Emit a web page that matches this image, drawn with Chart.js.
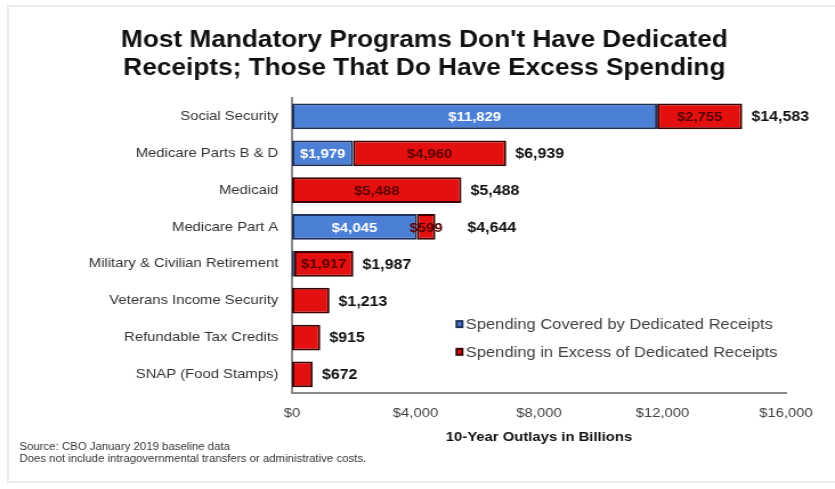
<!DOCTYPE html>
<html>
<head>
<meta charset="utf-8">
<script src="https://cdn.jsdelivr.net/npm/chart.js@4.4.1/dist/chart.umd.min.js"></script>
<style>
  html, body { margin: 0; padding: 0; background: #fff; overflow: hidden; }
  /* the chart is laid out narrow and widened, giving the broad lettering */
  #wrap { width: 732px; height: 489px; transform: scaleX(1.1407); transform-origin: 0 0; }
</style>
</head>
<body>
<div id="wrap"><canvas id="chart"></canvas></div>
<script>
// 10-year outlays, billions of dollars
const programs = [
    'Social Security',
    'Medicare Parts B & D',
    'Medicaid',
    'Medicare Part A',
    'Military & Civilian Retirement',
    'Veterans Income Security',
    'Refundable Tax Credits',
    'SNAP (Food Stamps)'
];
const coveredByReceipts = [11829, 1979, 0, 4045, 70, 0, 0, 0];
const excessOfReceipts = [2755, 4960, 5488, 599, 1917, 1213, 915, 672];
const totals = [14583, 6939, 5488, 4644, 1987, 1213, 915, 672];
const xTicks = [0, 4000, 8000, 12000, 16000];

const titleLines = ["Most Mandatory Programs Don't Have Dedicated", 'Receipts; Those That Do Have Excess Spending'];
const notes = ['Source: CBO January 2019 baseline data', 'Does not include intragovernmental transfers or administrative costs.'];

const BLUE = '#4b80d6';
const RED = '#e3100f';
const FONT = "'Liberation Sans', Arial, sans-serif";

const money = v => '$' + v.toLocaleString('en-US');

// title, footnote, segment values, totals, legend and frame
const annotate = {
    id: 'annotate',
    beforeDraw(chart) {
        const ctx = chart.ctx;
        ctx.save();
        ctx.strokeStyle = '#ebebeb';
        ctx.lineWidth = 2;
        ctx.strokeRect(7, 6, 760, 476);

        ctx.fillStyle = '#111';
        ctx.font = 'bold 23px ' + FONT;
        ctx.textAlign = 'center';
        ctx.textBaseline = 'middle';
        ctx.fillText(titleLines[0], 372, 41);
        ctx.fillText(titleLines[1], 372, 69);

        ctx.fillStyle = '#333';
        ctx.font = '10px ' + FONT;
        ctx.textAlign = 'left';
        ctx.fillText(notes[0], 17, 447);
        ctx.fillText(notes[1], 17, 459);
        ctx.restore();
    },
    afterDatasetsDraw(chart) {
        const ctx = chart.ctx;
        const area = chart.chartArea;
        ctx.save();
        ctx.textBaseline = 'middle';
        ctx.textAlign = 'center';
        ctx.font = 'bold 13px ' + FONT;
        chart.data.datasets.forEach((ds, di) => {
            const meta = chart.getDatasetMeta(di);
            meta.data.forEach((bar, i) => {
                const v = ds.data[i];
                // small single-segment bars only carry the total
                if (v < 300 || totals[i] < 1500) return;
                const cx = (bar.x + bar.base) / 2;
                ctx.fillStyle = di === 0 ? '#ffffff' : '#5a0000';
                ctx.fillText(money(v), cx, bar.y + 1);
            });
        });

        const xScale = chart.scales.x;
        ctx.textAlign = 'left';
        ctx.fillStyle = '#111';
        ctx.font = 'bold 14px ' + FONT;
        const last = chart.getDatasetMeta(1).data;
        totals.forEach((t, i) => {
            const end = xScale.getPixelForValue(coveredByReceipts[i] + excessOfReceipts[i]);
            let x = end + 8;
            // keep clear of a narrow segment's label
            if (excessOfReceipts[i] < 1000 && coveredByReceipts[i] > 1000) x = end + 28;
            ctx.fillText(money(t), x, last[i].y + 1);
        });

        // legend inside the plot
        const lx = area.left + (area.right - area.left) * 0.331;
        const h = area.bottom - area.top;
        const rows = [
            { y: area.top + h * 0.767, fill: BLUE, edge: '#1d2f5a', text: chart.data.datasets[0].label },
            { y: area.top + h * 0.861, fill: RED, edge: '#3d0000', text: chart.data.datasets[1].label }
        ];
        ctx.font = '14.5px ' + FONT;
        rows.forEach(r => {
            ctx.fillStyle = r.edge;
            ctx.fillRect(lx, r.y - 4, 7, 8);
            ctx.fillStyle = r.fill;
            ctx.fillRect(lx + 2, r.y - 2, 3, 4);
            ctx.fillStyle = '#404040';
            ctx.fillText(r.text, lx + 9, r.y + 1);
        });
        ctx.restore();
    }
};

const ctx = document.getElementById('chart').getContext('2d');
const chart = new Chart(ctx, {
    type: 'bar',
    data: {
        labels: programs,
        datasets: [
            {
                label: 'Spending Covered by Dedicated Receipts',
                data: coveredByReceipts,
                backgroundColor: BLUE,
                borderColor: '#1d2f5a',
                borderWidth: 2,
                borderSkipped: false,
                barPercentage: 0.7,
                categoryPercentage: 1
            },
            {
                label: 'Spending in Excess of Dedicated Receipts',
                data: excessOfReceipts,
                backgroundColor: RED,
                borderColor: '#3d0000',
                borderWidth: 2,
                borderSkipped: false,
                barPercentage: 0.7,
                categoryPercentage: 1
            }
        ]
    },
    options: {
        indexAxis: 'y',
        responsive: true,
        maintainAspectRatio: false,
        animation: false,
        layout: { padding: { left: 0, right: 43, top: 98, bottom: 44 } },
        plugins: {
            legend: { display: false },
            tooltip: { enabled: false }
        },
        scales: {
            x: {
                stacked: true,
                min: 0,
                max: 16000,
                afterBuildTicks: axis => { axis.ticks = xTicks.map(v => ({ value: v })); },
                grid: { display: false },
                border: { display: true, color: '#8a8a8a', width: 2 },
                ticks: {
                    color: '#404040',
                    font: { family: FONT, size: 13 },
                    padding: 5,
                    maxRotation: 0,
                    callback: v => money(v)
                },
                title: {
                    display: true,
                    text: '10-Year Outlays in Billions',
                    color: '#111',
                    font: { family: FONT, size: 13, weight: 'bold' },
                    padding: { top: 3, bottom: 0 }
                }
            },
            y: {
                stacked: true,
                afterFit: axis => { axis.width = 256; },
                grid: { display: false },
                border: { display: true, color: '#8a8a8a', width: 2 },
                ticks: {
                    color: '#333',
                    font: { family: FONT, size: 13 },
                    padding: 4
                }
            }
        }
    },
    plugins: [annotate]
});
</script>
</body>
</html>
